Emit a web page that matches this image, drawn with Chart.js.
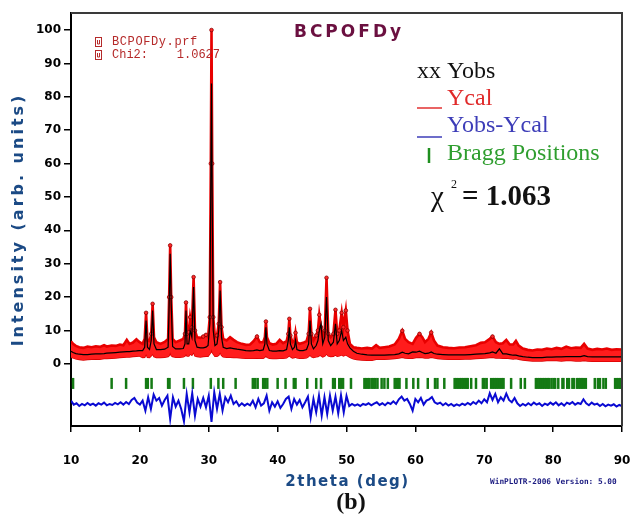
<!DOCTYPE html>
<html><head><meta charset="utf-8">
<script src="https://cdn.jsdelivr.net/npm/chart.js@4.4.1/dist/chart.umd.min.js"></script>
<style>html,body{margin:0;padding:0;background:#fff;}#wrap{width:630px;height:522px;}</style>
</head><body><div id="wrap"><canvas id="c" width="630" height="522"></canvas></div>
<script>
// ---------- data ----------
const angles = [10.0,10.3,10.7,11.2,11.8,12.4,13.0,13.6,14.2,14.8,
 15.2,15.9,16.5,17.1,17.6,18.1,18.5,19.0,19.5,19.9,
 20.4,20.7,20.9,21.1,21.4,21.65,21.85,22.05,22.4,23.0,
 23.6,24.1,24.25,24.4,24.55,24.75,25.2,25.8,26.3,26.55,
 26.7,26.85,27.1,27.3,27.55,27.8,28.0,28.3,28.8,29.2,
 29.6,29.9,30.15,30.3,30.4,30.5,30.65,30.9,31.2,31.45,
 31.65,31.85,32.1,32.6,33.1,33.6,34.1,34.8,35.4,36.0,
 36.5,37.0,37.4,37.9,38.15,38.3,38.45,38.8,39.3,39.8,
 40.3,40.8,41.3,41.55,41.7,41.85,42.15,42.45,42.6,42.8,
 43.2,43.7,44.2,44.5,44.7,44.9,45.2,45.6,45.85,46.05,
 46.3,46.55,46.85,47.1,47.35,47.7,48.1,48.4,48.65,48.95,
 49.3,49.55,49.9,50.15,50.5,51.0,51.5,52.2,53.0,53.7,
 54.3,54.8,55.5,56.2,57.0,57.6,58.1,58.5,59.0,59.6,
 60.1,60.6,61.0,61.4,61.9,62.3,62.7,63.2,64.0,64.8,
 65.6,66.4,67.2,68.0,68.8,69.5,70.1,70.8,71.2,71.7,
 72.2,72.7,73.2,73.7,74.2,74.6,75.0,75.6,76.3,77.0,
 77.7,78.4,79.1,79.8,80.5,81.2,81.9,82.6,83.3,84.0,
 84.5,85.0,85.7,86.4,87.1,87.8,88.5,89.2,90.0];

// upper edge of the observed (Yobs) band
const obsUpper = [6.8,6.0,5.4,5.0,4.8,5.2,5.0,5.3,5.1,5.6,
 5.2,5.5,5.4,5.8,5.6,7.2,6.0,6.4,7.4,6.6,
 6.0,7.5,15.3,7.0,6.8,9.0,18.0,8.0,6.5,6.0,
 6.6,7.5,20.0,35.5,20.0,7.5,6.5,7.0,7.5,9.0,
 18.4,9.0,9.5,14.0,11.0,26.0,10.0,8.0,7.8,8.2,
 8.7,8.0,14.0,60.0,100.0,60.0,14.0,8.0,8.5,12.0,
 24.5,11.0,7.5,7.0,8.0,7.2,6.5,6.0,5.7,5.8,
 6.8,8.2,6.5,6.5,8.0,12.7,8.0,6.2,5.8,6.0,
 7.2,6.2,6.8,9.0,13.5,8.5,6.5,7.0,9.3,6.5,
 6.0,6.3,6.8,9.0,16.5,9.0,7.0,8.5,10.0,14.7,
 11.0,8.0,10.0,25.8,9.0,8.0,9.0,16.2,9.0,10.0,
 15.3,11.0,16.0,10.0,6.0,5.0,4.8,4.6,4.8,4.6,
 5.6,4.8,5.0,5.2,5.8,7.5,9.9,7.5,6.5,6.0,
 7.8,9.0,8.0,6.5,7.5,9.4,7.0,5.5,5.0,4.8,
 4.7,4.9,5.0,5.3,5.6,6.3,6.5,7.5,8.2,6.5,
 6.0,6.2,7.2,5.8,5.8,6.9,5.5,4.6,4.2,4.0,
 4.3,4.2,4.6,4.4,4.8,4.5,5.2,4.7,4.9,4.8,
 6.0,4.6,4.2,4.5,4.3,4.6,4.2,4.4,4.3];

// lower edge of the observed (Yobs) band
const obsLower = [2.0,1.8,1.5,1.3,1.2,1.3,1.4,1.5,1.4,1.6,
 1.6,1.7,1.8,1.9,2.0,2.1,2.1,2.2,2.3,2.4,
 1.9,2.0,3.0,2.0,1.9,2.4,3.0,2.2,1.9,1.9,
 2.0,2.2,2.5,3.5,2.5,2.2,2.0,2.0,2.1,2.4,
 3.0,2.4,2.4,3.0,2.6,3.5,2.4,2.2,2.1,2.2,
 2.3,2.3,3.0,3.5,4.5,3.5,3.0,2.3,2.3,2.6,
 3.5,2.6,2.1,2.0,2.0,1.9,1.9,1.8,1.7,1.7,
 1.7,1.8,1.7,1.7,2.0,2.5,2.0,1.7,1.6,1.6,
 1.7,1.7,1.8,2.2,2.5,2.2,1.8,1.9,2.1,1.8,
 1.7,1.7,1.8,2.2,2.7,2.2,1.9,2.1,2.2,2.5,
 2.5,2.1,2.4,3.0,2.4,2.2,2.3,2.7,2.3,2.4,
 2.7,2.4,2.7,2.4,2.0,1.5,1.3,1.2,1.1,1.1,
 1.4,1.4,1.4,1.5,1.6,1.8,2.0,1.8,1.7,1.7,
 1.9,2.0,1.9,1.8,1.8,2.0,1.8,1.6,1.5,1.4,
 1.4,1.4,1.5,1.5,1.6,1.7,1.8,1.9,2.0,1.8,
 1.8,1.7,1.8,1.6,1.5,1.6,1.4,1.2,1.0,0.9,
 0.9,0.9,1.0,1.0,1.0,0.9,1.0,1.0,0.9,0.9,
 1.0,0.9,0.8,0.8,0.8,0.8,0.8,0.8,0.8];

// calculated profile (Ycal)
const calcValues = [3.8,3.4,3.1,2.9,2.8,2.8,2.9,3.0,3.0,3.1,
 3.2,3.3,3.4,3.5,3.6,3.7,3.7,3.8,3.9,4.0,
 4.0,5.0,13.0,5.0,4.3,7.0,16.0,6.0,4.3,4.3,
 4.4,5.0,18.0,33.0,18.0,5.2,4.5,4.5,4.6,6.0,
 16.0,6.0,6.0,10.0,8.0,23.0,7.0,5.0,4.8,4.8,
 5.0,5.5,12.0,55.0,84.0,50.0,10.0,5.5,6.0,10.0,
 22.0,8.0,5.0,4.6,4.8,4.6,4.4,4.2,4.0,3.9,
 4.0,4.2,4.0,4.2,6.0,11.0,6.0,4.0,3.8,3.8,
 4.0,3.9,4.3,7.0,11.0,6.0,4.3,5.0,7.0,4.3,
 4.0,4.0,4.3,6.0,13.0,6.0,4.5,5.5,7.0,10.0,
 12.0,6.0,8.0,20.0,7.0,5.5,6.5,12.0,6.0,7.0,
 10.0,7.0,8.0,6.0,4.8,3.8,3.2,2.9,2.7,2.6,
 2.6,2.6,2.6,2.7,2.8,3.0,3.5,3.2,3.0,3.6,
 3.5,3.8,3.4,3.1,3.2,3.6,3.1,2.9,2.8,2.7,
 2.7,2.7,2.7,2.8,2.9,3.0,3.1,3.3,3.6,3.2,
 4.5,3.0,3.0,2.8,2.6,2.6,2.4,2.2,2.0,1.9,
 1.9,1.9,2.0,2.0,2.1,2.1,2.2,2.2,2.2,2.2,
 2.5,2.2,2.1,2.1,2.1,2.1,2.1,2.1,2.1];

// difference curve Yobs-Ycal, sampled every 0.4 deg from 10 deg
const diffStart = 10, diffStep = 0.4;
const diffValues = [-11.0,-12.2,-11.8,-12.6,-12.0,-12.4,-11.7,-12.3,-11.9,-12.5,
 -11.8,-12.2,-11.6,-12.4,-12.0,-12.3,-11.7,-12.1,-11.5,-12.2,
 -11.4,-12.0,-10.8,-10.2,-11.6,-12.2,-11.0,-14.0,-10.0,-13.5,
 -9.2,-11.0,-10.2,-12.5,-10.8,-9.5,-16.5,-10.0,-12.8,-11.0,
 -13.5,-17.2,-9.0,-14.5,-8.8,-15.5,-10.5,-12.8,-10.2,-13.0,
 -9.5,-17.4,-8.5,-13.5,-9.0,-14.0,-10.0,-11.5,-9.5,-12.0,
 -11.2,-12.6,-11.8,-12.5,-11.9,-12.4,-11.0,-13.0,-10.5,-12.5,
 -11.8,-9.5,-14.0,-11.5,-12.8,-11.2,-13.2,-12.0,-10.5,-9.8,
 -13.5,-10.5,-12.2,-10.8,-13.0,-11.5,-9.8,-16.0,-10.5,-14.5,
 -9.5,-15.5,-10.0,-15.0,-9.5,-14.0,-9.8,-14.8,-9.4,-14.5,
 -9.6,-12.6,-12.0,-12.5,-12.1,-12.6,-12.0,-12.3,-11.8,-12.4,
 -11.9,-11.5,-12.3,-11.8,-12.4,-11.6,-12.0,-11.2,-12.0,-10.6,
 -9.8,-11.0,-10.5,-12.0,-14.0,-10.5,-11.5,-10.2,-12.2,-11.0,
 -10.6,-9.9,-11.5,-12.0,-11.6,-12.4,-11.8,-12.5,-12.0,-12.6,
 -12.1,-12.5,-11.9,-12.3,-11.7,-12.2,-11.4,-12.0,-11.0,-11.8,
 -10.6,-11.5,-8.8,-10.8,-9.0,-11.5,-10.0,-11.0,-8.9,-10.8,
 -11.5,-10.2,-11.8,-12.6,-12.0,-12.5,-11.8,-12.4,-11.6,-12.2,
 -11.8,-12.6,-11.9,-12.3,-11.6,-12.2,-11.5,-12.4,-11.8,-12.5,
 -11.6,-12.0,-11.4,-12.2,-11.7,-12.0,-10.6,-11.8,-12.4,-11.6,
 -12.2,-11.9,-12.6,-12.0,-12.7,-12.2,-12.5,-12.1,-12.8,-12.3,
 -12.6];

// Bragg reflection positions (2theta) and the level their markers sit at
const braggPositions = [10.3,15.9,18.0,20.9,21.15,21.7,24.1,24.3,26.4,27.7,
 30.3,31.4,32.1,33.9,36.4,36.75,37.1,37.9,38.15,38.5,
 40.0,41.15,42.35,42.6,44.3,45.6,46.3,48.05,48.3,48.95,
 49.2,49.5,50.65,52.6,52.85,53.1,53.35,53.7,53.95,54.2,
 54.5,55.1,55.5,56.0,57.0,57.25,57.5,57.7,58.7,59.7,
 60.4,61.8,62.85,63.2,64.2,65.7,65.95,66.2,66.45,66.7,
 66.95,67.2,67.45,67.6,68.1,68.8,69.8,70.05,70.35,71.0,
 71.25,71.5,71.75,72.0,72.3,72.55,72.8,73.9,75.3,75.9,
 77.5,77.75,78.0,78.25,78.5,78.75,79.0,79.25,79.4,79.75,
 80.05,80.3,80.75,81.35,81.5,82.05,82.3,82.8,83.0,83.45,
 83.7,83.95,84.2,84.45,84.75,86.05,86.5,86.8,87.3,87.65,
 89.0,89.25,89.5,89.75,89.95];
const braggLevel = -5.85;

const xTickValues = [10,20,30,40,50,60,70,80,90];
const yTickValues = [0,10,20,30,40,50,60,70,80,90,100];

// ---------- chart ----------
const TICK_FONT = {family:'DejaVu Sans', weight:'bold', size:12};

function txt(ctx, s, x, y, font, color, align, spacing){
  ctx.save();
  ctx.font = font; ctx.fillStyle = color; ctx.textAlign = align || 'left';
  ctx.textBaseline = 'middle';
  if ('letterSpacing' in ctx) ctx.letterSpacing = spacing || '0px';
  ctx.fillText(s, x, y);
  ctx.restore();
}

const decor = {
  id:'decor',
  afterDraw(chart){
    const ctx = chart.ctx, a = chart.chartArea;
    ctx.save();
    ctx.strokeStyle = '#3a3a3a'; ctx.lineWidth = 2;
    ctx.beginPath();
    ctx.moveTo(a.left, a.top); ctx.lineTo(a.right, a.top); ctx.lineTo(a.right, a.bottom);
    ctx.stroke();
    ctx.restore();

    ctx.save();
    ctx.translate(19, (a.top + a.bottom) / 2);
    ctx.rotate(-Math.PI / 2);
    txt(ctx, 'Intensity (arb. units)', 0, 0, 'bold 16px "DejaVu Sans"', '#1b4a85', 'center', '3px');
    ctx.restore();
    txt(ctx, '2theta (deg)', (a.left + a.right) / 2 + 1, 482, 'bold 15px "DejaVu Sans"', '#1b4a85', 'center', '1.5px');

    txt(ctx, 'BCPOFDy', 349, 33, 'bold 17px "DejaVu Sans"', '#6b1040', 'center', '3px');

    ctx.save();
    ctx.strokeStyle = '#b52a2a'; ctx.lineWidth = 1;
    ctx.strokeRect(95.5, 37.5, 6, 9);
    ctx.strokeRect(95.5, 50.5, 6, 9);
    ctx.beginPath();
    ctx.moveTo(97.5, 40); ctx.lineTo(97.5, 44); ctx.lineTo(99.5, 44); ctx.lineTo(99.5, 40);
    ctx.moveTo(97.5, 53); ctx.lineTo(97.5, 57); ctx.lineTo(99.5, 57); ctx.lineTo(99.5, 53);
    ctx.stroke();
    ctx.restore();
    txt(ctx, 'BCPOFDy.prf', 112, 42, '12px "Liberation Mono"', '#b52a2a', 'left', '0.6px');
    txt(ctx, 'Chi2:    1.0627', 112, 55, '12px "Liberation Mono"', '#b52a2a', 'left', '0px');

    const lf = '24px "Liberation Serif"';
    txt(ctx, 'xx Yobs', 417, 72, lf, '#111', 'left');
    ctx.save();
    ctx.lineWidth = 1.5;
    ctx.strokeStyle = '#e23030';
    ctx.beginPath(); ctx.moveTo(417, 108); ctx.lineTo(442, 108); ctx.stroke();
    ctx.strokeStyle = '#3d3db8';
    ctx.beginPath(); ctx.moveTo(417, 137); ctx.lineTo(442, 137); ctx.stroke();
    ctx.strokeStyle = '#1f8f1f'; ctx.lineWidth = 2.5;
    ctx.beginPath(); ctx.moveTo(429, 148); ctx.lineTo(429, 163); ctx.stroke();
    ctx.restore();
    txt(ctx, 'Ycal', 447, 99, lf, '#e02a2a', 'left');
    txt(ctx, 'Yobs-Ycal', 447, 126, lf, '#3d3db8', 'left');
    txt(ctx, 'Bragg Positions', 447, 154, lf, '#2f9e2f', 'left');

    txt(ctx, 'χ', 431, 198, '29px "Liberation Serif"', '#111', 'left');
    txt(ctx, '2', 451, 185, '12px "Liberation Serif"', '#111', 'left');
    txt(ctx, '= 1.063', 462, 198, 'bold 29px "Liberation Serif"', '#111', 'left');

    txt(ctx, 'WinPLOTR-2006 Version: 5.00', 490, 482, 'bold 7.8px "DejaVu Sans Mono"', '#1a1a80', 'left', '0px');
    txt(ctx, '(b)', 351, 503, 'bold 24px "Liberation Serif"', '#111', 'center');
  }
};

const calcData = angles.map((a, i) => ({x: a, y: calcValues[i]}));
const upperData = angles.map((a, i) => ({x: a, y: obsUpper[i]}));
const lowerData = angles.map((a, i) => ({x: a, y: obsLower[i]}));
const diffData = diffValues.map((v, i) => ({x: +(diffStart + i * diffStep).toFixed(2), y: v}));
const braggData = braggPositions.map(p => ({x: p, y: braggLevel}));

new Chart(document.getElementById('c'), {
  type: 'scatter',
  data: {
    datasets: [
      {label:'Ycal', data: calcData, showLine:true, borderColor:'#000', borderWidth:1.2,
       pointRadius:0, order:0},
      {label:'Yobs-Ycal', data: diffData, showLine:true, borderColor:'#0a0ad2', borderWidth:2,
       pointRadius:0, order:1},
      {label:'Bragg Positions', data: braggData, showLine:false, pointStyle:'line', rotation:90,
       pointRadius:5.5, pointHoverRadius:5.5, borderColor:'#147a14', pointBorderWidth:2.5, borderWidth:2.5, order:1},
      {label:'Yobs', data: upperData, showLine:true, borderColor:'#e80000', borderWidth:2.6,
       backgroundColor:'#ff1c1c', fill:'+1',
       pointRadius: c => (c.raw && c.raw.y > 8 ? 1.8 : 0),
       pointBackgroundColor:'#ff2a2a', pointBorderColor:'#8a0000', pointBorderWidth:0.8, order:3},
      {label:'Yobs low', data: lowerData, showLine:true, borderColor:'#d80000', borderWidth:1.5,
       pointRadius:0, fill:false, order:4}
    ]
  },
  options: {
    responsive:false, devicePixelRatio:1, animation:false,
    layout:{padding:{top:13, right:8, left:0, bottom:0}},
    plugins:{legend:{display:false}, tooltip:{enabled:false}, title:{display:false}},
    elements:{line:{tension:0}},
    scales:{
      x:{type:'linear', position:'bottom', min:10, max:90,
         afterBuildTicks(s){ s.ticks = xTickValues.map(v => ({value:v})); },
         ticks:{font:TICK_FONT, color:'#000', padding:22, maxRotation:0, autoSkip:false},
         grid:{display:true, drawOnChartArea:false, drawTicks:true, tickLength:6, color:'#000', lineWidth:1.5},
         border:{display:true, color:'#000', width:2},
         afterFit(s){ s.height = 96; s.paddingLeft = 0; s.paddingRight = 0; }},
      y:{type:'linear', position:'left', min:-18.6, max:105.1,
         afterBuildTicks(s){ s.ticks = yTickValues.map(v => ({value:v})); },
         ticks:{font:TICK_FONT, color:'#000', padding:3, autoSkip:false},
         grid:{display:true, drawOnChartArea:false, drawTicks:true, tickLength:7, color:'#000', lineWidth:1.5},
         border:{display:true, color:'#000', width:2},
         afterFit(s){ s.width = 71; s.paddingTop = 0; s.paddingBottom = 0; }}
    }
  },
  plugins:[decor]
});
</script></body></html>
